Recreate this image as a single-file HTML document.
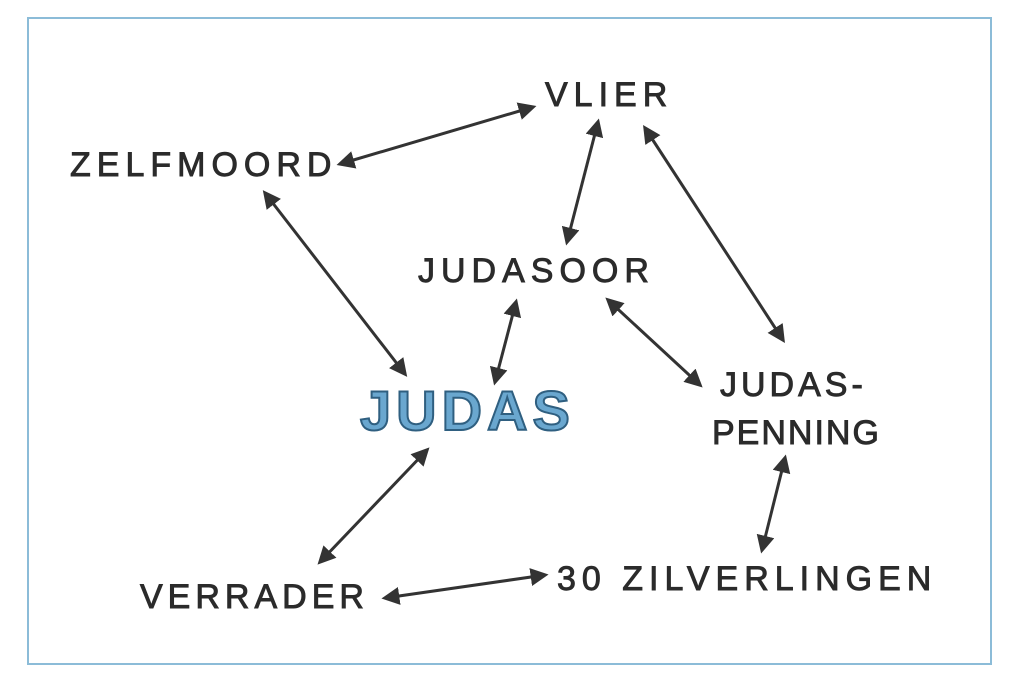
<!DOCTYPE html>
<html><head><style>
html,body{margin:0;padding:0;background:#fff;}
body{width:1024px;height:683px;position:relative;overflow:hidden;font-family:"Liberation Sans",sans-serif;}
.frame{position:absolute;left:27px;top:17px;width:965px;height:648px;border:2px solid #8cbcd8;box-sizing:border-box;}
.t{position:absolute;color:#2b2b2b;font-size:34px;letter-spacing:6px;white-space:nowrap;-webkit-text-stroke:0.9px #2b2b2b;}
svg{position:absolute;left:0;top:0;}
</style></head><body>
<div class="frame"></div>
<svg width="1024" height="683" viewBox="0 0 1024 683">
<defs><marker id="a" viewBox="0 0 10 10" refX="8" refY="5" markerWidth="6" markerHeight="6" orient="auto-start-reverse"><path d="M0,0 L10,5 L0,10 z" fill="#333"/></marker></defs>
<g stroke="#333" stroke-width="3" fill="none" marker-start="url(#a)" marker-end="url(#a)">
<line x1="340" y1="164" x2="533" y2="107"/>
<line x1="598" y1="122" x2="567" y2="242"/>
<line x1="645" y1="128" x2="783" y2="340"/>
<line x1="265" y1="193" x2="405" y2="374"/>
<line x1="516" y1="302" x2="495" y2="382"/>
<line x1="608" y1="300" x2="700" y2="385"/>
<line x1="427" y1="450" x2="320" y2="562"/>
<line x1="785" y1="458" x2="762" y2="550"/>
<line x1="385" y1="598" x2="545" y2="575"/>
</g>
</svg>
<div class="t" style="left:545px;top:76px;">VLIER</div>
<div class="t" style="left:70px;top:146px;">ZELFMOORD</div>
<div class="t" style="left:418px;top:252px;">JUDASOOR</div>
<div class="t" style="left:360px;top:378px;font-size:56px;font-weight:bold;color:#6aa7cf;-webkit-text-stroke:2px #2f5f80;letter-spacing:5px;">JUDAS</div>
<div class="t" style="left:720px;top:366px;letter-spacing:4px;">JUDAS-</div>
<div class="t" style="left:712px;top:414px;letter-spacing:2px;">PENNING</div>
<div class="t" style="left:140px;top:578px;letter-spacing:5px;">VERRADER</div>
<div class="t" style="left:557px;top:560px;">30 ZILVERLINGEN</div>
</body></html>
